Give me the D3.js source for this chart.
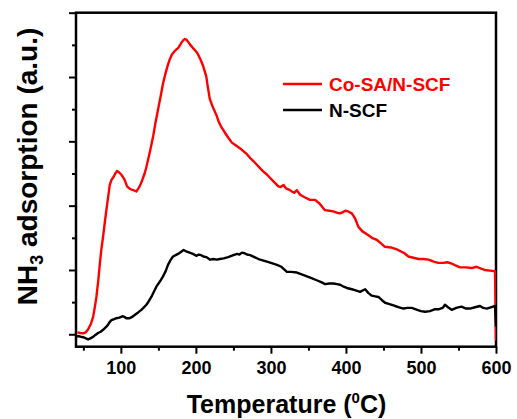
<!DOCTYPE html>
<html>
<head>
<meta charset="utf-8">
<script src="https://cdn.jsdelivr.net/npm/d3@7"></script>
<style>
  html, body { margin: 0; padding: 0; background: #fff; }
  svg { display: block; }
  text { font-family: "Liberation Sans", Arial, sans-serif; font-weight: bold; }
</style>
</head>
<body>
<svg id="chart" width="517" height="419"></svg>
<script>
// NH3-TPD profiles: temperature (°C) and desorption signal (a.u.)
const tempCoSA = [42,46,50,53,56,60,63,65,67.4,70,72,74,76.3,78.5,80.7,83,85.1,87.5,90.4,92.5,95,97.5,100.7,103,105,108.3,111,114,117,120.6,123,125,128,131.7,134,136.2,139.5,142.9,146,149.5,153,156.2,160,163,165,168,171.6,174,176.2,178.5,180.6,183,185,187.5,189.5,192.5,196.1,200,202.5,205,207,209.4,211.5,213.8,216,218.5,222,225.8,228,230.2,234,239,243,248,253,259,264,268,272.4,277,281,285.7,290,295,299,304,310,313,316.8,320,324,328,331,334.6,337,339,345,352,359,365,372,378,383,388,392,396,399,403,407.8,410,412.2,416.6,422,430,436,441,446,452,460,467.8,478,483,490,496.5,503,510,517,523,530,535,541,546,552,560,567.6,574,580,585,592,598.7,600];
const signalCoSA = [0.03,0.02,0.015,0.03,0.07,0.16,0.27,0.40,0.58,0.85,1.10,1.32,1.52,1.73,1.93,2.13,2.32,2.40,2.45,2.50,2.54,2.52,2.48,2.44,2.40,2.30,2.27,2.25,2.24,2.22,2.26,2.30,2.38,2.50,2.60,2.71,2.88,3.07,3.28,3.49,3.70,3.90,4.08,4.20,4.27,4.35,4.40,4.43,4.45,4.49,4.53,4.57,4.59,4.58,4.55,4.50,4.45,4.40,4.36,4.30,4.25,4.18,4.10,4.01,3.84,3.66,3.55,3.45,3.39,3.31,3.22,3.13,3.06,2.98,2.94,2.89,2.84,2.80,2.74,2.69,2.64,2.58,2.53,2.48,2.43,2.37,2.30,2.29,2.32,2.27,2.25,2.22,2.20,2.24,2.20,2.17,2.13,2.09,2.09,2.03,1.93,1.92,1.91,1.89,1.88,1.90,1.92,1.91,1.88,1.84,1.80,1.67,1.60,1.54,1.49,1.47,1.42,1.36,1.35,1.32,1.26,1.21,1.19,1.17,1.17,1.16,1.13,1.11,1.11,1.12,1.10,1.07,1.04,1.04,1.03,1.05,1.02,1.00,0.99,0.98,-0.1];

const tempNSCF = [40.5,44,47.4,51,56.3,60,63,66,69.6,73,76.3,80,83,85,87.4,90,94,98,102,105,107.3,111.7,115,118.4,123,127.3,130,134,137,140.6,144,147.3,152,156.2,160,162.8,166,169.5,173,176.2,180,183.6,187,191.6,196,200.5,204,207,210,213.8,219,223,228,232,237,243,250,255,258,261.4,265,268,272.4,278,283.5,289,294.7,300,308,314,321.3,327,334.6,341,348,355,361,367,372.3,378,383.4,388,392.3,397,401.2,408,414,419,422,425.6,430,434.5,439,443.3,448,452.2,458,465.5,471,476.6,482,487.7,495,500,505.5,512,518.8,524,529,532,536,541,547,554,560,565.4,572,578.7,583,587.6,593,598.7,600];
const signalNSCF = [-0.03,-0.03,-0.04,-0.05,-0.08,-0.06,-0.04,-0.01,0.02,0.04,0.07,0.11,0.15,0.19,0.22,0.23,0.25,0.26,0.28,0.27,0.25,0.25,0.27,0.30,0.34,0.38,0.41,0.46,0.51,0.58,0.66,0.74,0.82,0.90,0.99,1.08,1.15,1.21,1.23,1.25,1.28,1.31,1.29,1.27,1.25,1.22,1.24,1.23,1.21,1.20,1.16,1.17,1.16,1.17,1.18,1.20,1.23,1.25,1.24,1.27,1.26,1.24,1.23,1.20,1.17,1.15,1.13,1.11,1.08,1.05,0.97,0.97,0.96,0.93,0.90,0.87,0.84,0.81,0.78,0.79,0.79,0.78,0.77,0.74,0.72,0.70,0.68,0.66,0.68,0.70,0.64,0.60,0.59,0.58,0.53,0.49,0.47,0.44,0.42,0.40,0.41,0.41,0.38,0.36,0.35,0.36,0.39,0.39,0.41,0.46,0.42,0.38,0.41,0.43,0.40,0.40,0.42,0.44,0.41,0.40,0.42,0.44,0.12];

const xTickValues = [100, 200, 300, 400, 500, 600];
const xMinorValues = [50, 150, 250, 350, 450, 550];
const yTickValues = [0, 1, 2, 3, 4, 5];
const yMinorValues = [0.5, 1.5, 2.5, 3.5, 4.5];
const seriesNames = ["Co-SA/N-SCF", "N-SCF"];
const seriesColors = ["#ff0000", "#000000"];

const svg = d3.select("#chart");
const plot = { left: 76, right: 496, top: 12.7, bottom: 346.7 };

const x = d3.scaleLinear().domain([40.2, 600]).range([plot.left, plot.right]);
const y = d3.scaleLinear().domain([-0.193, 5.0]).range([plot.bottom, plot.top]);

// Axes: major ticks labelled on x only, minor ticks unlabelled
const xAxis = svg.append("g").attr("transform", `translate(0,${plot.bottom})`)
  .call(d3.axisBottom(x).tickValues(xTickValues).tickSize(7).tickPadding(8).tickFormat(d3.format("d")));
const xMinor = svg.append("g").attr("transform", `translate(0,${plot.bottom})`)
  .call(d3.axisBottom(x).tickValues(xMinorValues).tickSize(4).tickFormat(""));
const yAxis = svg.append("g").attr("transform", `translate(${plot.left},0)`)
  .call(d3.axisLeft(y).tickValues(yTickValues).tickSize(7).tickFormat(""));
const yMinor = svg.append("g").attr("transform", `translate(${plot.left},0)`)
  .call(d3.axisLeft(y).tickValues(yMinorValues).tickSize(4).tickFormat(""));

[xAxis, xMinor, yAxis, yMinor].forEach(g => {
  g.select(".domain").remove();
  g.selectAll(".tick line").attr("stroke", "#000").attr("stroke-width", 2);
});
xAxis.selectAll(".tick text")
  .attr("font-size", 18).attr("font-weight", "bold").attr("fill", "#000")
  .attr("font-family", "Liberation Sans, Arial, sans-serif");

// Frame
svg.append("rect")
  .attr("x", plot.left).attr("y", plot.top)
  .attr("width", plot.right - plot.left).attr("height", plot.bottom - plot.top)
  .attr("fill", "none").attr("stroke", "#000").attr("stroke-width", 2.5);

// Curves
const line = d3.line().x(d => x(d[0])).y(d => y(d[1]));
const series = [
  d3.zip(tempCoSA, signalCoSA),
  d3.zip(tempNSCF, signalNSCF)
];
svg.append("clipPath").attr("id", "plotClip").append("rect")
  .attr("x", plot.left).attr("y", plot.top)
  .attr("width", plot.right - plot.left).attr("height", plot.bottom - plot.top);
svg.append("g").attr("clip-path", "url(#plotClip)")
  .selectAll("path").data(series).join("path")
  .attr("d", line)
  .attr("fill", "none")
  .attr("stroke", (d, i) => seriesColors[i])
  .attr("stroke-width", 2.4)
  .attr("stroke-linejoin", "round");

// Legend
const legend = svg.append("g");
seriesNames.forEach((name, i) => {
  const ly = 84 + i * 26;
  legend.append("line")
    .attr("x1", 283).attr("x2", 322).attr("y1", ly).attr("y2", ly)
    .attr("stroke", seriesColors[i]).attr("stroke-width", 2.4);
  legend.append("text")
    .attr("x", 329).attr("y", ly + 7)
    .attr("font-size", 19).attr("fill", seriesColors[i])
    .text(name);
});

// Axis titles
const xTitle = svg.append("text")
  .attr("x", 286.5).attr("y", 413)
  .attr("text-anchor", "middle").attr("font-size", 25).attr("fill", "#000");
xTitle.append("tspan").text("Temperature (");
xTitle.append("tspan").attr("font-size", 15).attr("dy", -10).text("0");
xTitle.append("tspan").attr("dy", 10).text("C)");

const yTitle = svg.append("text")
  .attr("transform", "translate(37,166.5) rotate(-90)")
  .attr("text-anchor", "middle").attr("font-size", 28).attr("fill", "#000");
yTitle.append("tspan").text("NH");
yTitle.append("tspan").attr("font-size", 18).attr("dy", 6).text("3");
yTitle.append("tspan").attr("dy", -6).text(" adsorption (a.u.)");
</script>
</body>
</html>
